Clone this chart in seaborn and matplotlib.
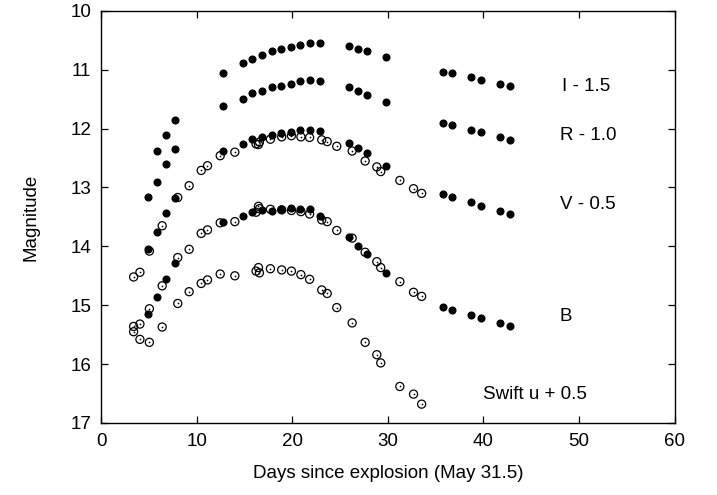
import numpy as np
import pandas as pd
import seaborn as sns
import matplotlib.pyplot as plt

sns.set_style("ticks")
plt.rcParams['font.family'] = ['Liberation Sans', 'DejaVu Sans']
plt.rcParams['text.color'] = 'black'
plt.rcParams['axes.labelcolor'] = 'black'
plt.rcParams['xtick.color'] = 'black'
plt.rcParams['ytick.color'] = 'black'

# Ground-based photometry (filled circles), offsets already applied
days_bvri = [4.90, 5.80, 6.77, 7.74, 12.76, 14.80, 15.83, 16.81, 17.85, 18.83, 19.84,
             20.85, 21.83, 22.94, 25.94, 26.85, 27.82, 29.81, 35.73, 36.74, 38.74,
             39.72, 41.77, 42.74]
mag_R = [13.16, 12.90, 12.60, 12.35, 11.62, 11.49, 11.39, 11.36, 11.29, 11.27, 11.24,
         11.19, 11.17, 11.19, 11.29, 11.36, 11.43, 11.55, 11.90, 11.94, 12.03,
         12.06, 12.15, 12.19]
mag_V = [14.04, 13.76, 13.44, 13.17, 12.38, 12.26, 12.17, 12.15, 12.10, 12.07, 12.06,
         12.03, 12.02, 12.04, 12.24, 12.33, 12.42, 12.64, 13.11, 13.16, 13.25,
         13.31, 13.40, 13.45]
mag_B = [15.15, 14.86, 14.56, 14.29, 13.58, 13.49, 13.42, 13.38, 13.40, 13.37, 13.35,
         13.36, 13.37, 13.48, 13.84, 14.00, 14.13, 14.46, 15.03, 15.08, 15.16,
         15.21, 15.30, 15.36]
# I has no point on the first night
days_I = days_bvri[1:]
mag_I = [12.38, 12.11, 11.86, 11.05, 10.89, 10.81, 10.75, 10.68, 10.65, 10.62,
         10.58, 10.55, 10.54, 10.60, 10.64, 10.68, 10.79, 11.03, 11.06, 11.13,
         11.17, 11.25, 11.28]

# Swift UVOT photometry (open circles)
days_swift = [3.40, 4.06, 5.05, 6.39, 8.02, 9.21, 10.47, 11.13, 12.46, 13.99, 16.21,
              16.46, 16.56, 17.71, 18.89, 19.91, 20.90, 21.81, 23.08, 23.65, 24.65,
              26.26, 27.62, 28.84, 29.25, 31.25, 32.68, 33.53]
mag_sv = [14.52, 14.44, 14.08, 13.65, 13.17, 12.97, 12.71, 12.63, 12.46, 12.40, 12.26,
          12.27, 12.23, 12.18, 12.14, 12.12, 12.14, 12.15, 12.19, 12.22, 12.30,
          12.38, 12.55, 12.65, 12.73, 12.88, 13.02, 13.10]
mag_sb = [15.36, 15.32, 15.06, 14.67, 14.19, 14.05, 13.78, 13.72, 13.60, 13.58, 13.42,
          13.32, 13.36, 13.37, 13.38, 13.39, 13.41, 13.45, 13.55, 13.58, 13.73,
          13.86, 14.10, 14.26, 14.36, 14.60, 14.78, 14.85]
mag_su = [15.45, 15.58, 15.63, 15.37, 14.97, 14.77, 14.63, 14.57, 14.47, 14.50, 14.42,
          14.36, 14.45, 14.38, 14.40, 14.42, 14.48, 14.56, 14.74, 14.80, 15.04,
          15.30, 15.63, 15.84, 15.98, 16.38, 16.51, 16.68]

labels = ['I - 1.5', 'R - 1.0', 'V - 0.5', 'B', 'Swift u + 0.5']
label_x = [48.2, 48.0, 48.0, 48.0, 39.9]
label_y = [11.29, 12.11, 13.29, 15.19, 16.51]

fig, ax = plt.subplots(figsize=(7.17, 4.95), dpi=100)
fig.subplots_adjust(left=0.141, right=0.941, top=0.978, bottom=0.1455)

# open circles with a dot in the middle
for m in [mag_sv, mag_sb, mag_su]:
    sns.scatterplot(x=days_swift, y=m, ax=ax, marker='o', s=34,
                    facecolor='none', edgecolor='black', linewidth=0.9, zorder=2)
    sns.scatterplot(x=days_swift, y=m, ax=ax, marker='o', s=1.5,
                    color='black', linewidth=0, zorder=2)

for d, m in [(days_I, mag_I), (days_bvri, mag_R), (days_bvri, mag_V), (days_bvri, mag_B)]:
    sns.scatterplot(x=d, y=m, ax=ax, marker='o', s=34, color='black',
                    linewidth=0, zorder=3)

for t, x, y in zip(labels, label_x, label_y):
    ax.text(x, y, t, ha='left', va='center', fontsize=13.5)

ax.set_xlim(0, 60)
ax.set_ylim(17, 10)
ax.set_xticks(range(0, 61, 10))
ax.set_yticks(range(10, 18))
ax.tick_params(direction='in', length=5, width=0.9, labelsize=13.5,
               top=True, right=True, pad=7)
for s in ax.spines.values():
    s.set_linewidth(1.0)
    s.set_color('black')
ax.set_xlabel('Days since explosion (May 31.5)', fontsize=13.5, labelpad=11)
ax.set_ylabel('Magnitude', fontsize=13.5, labelpad=22)

fig.savefig('out.png', dpi=100)
